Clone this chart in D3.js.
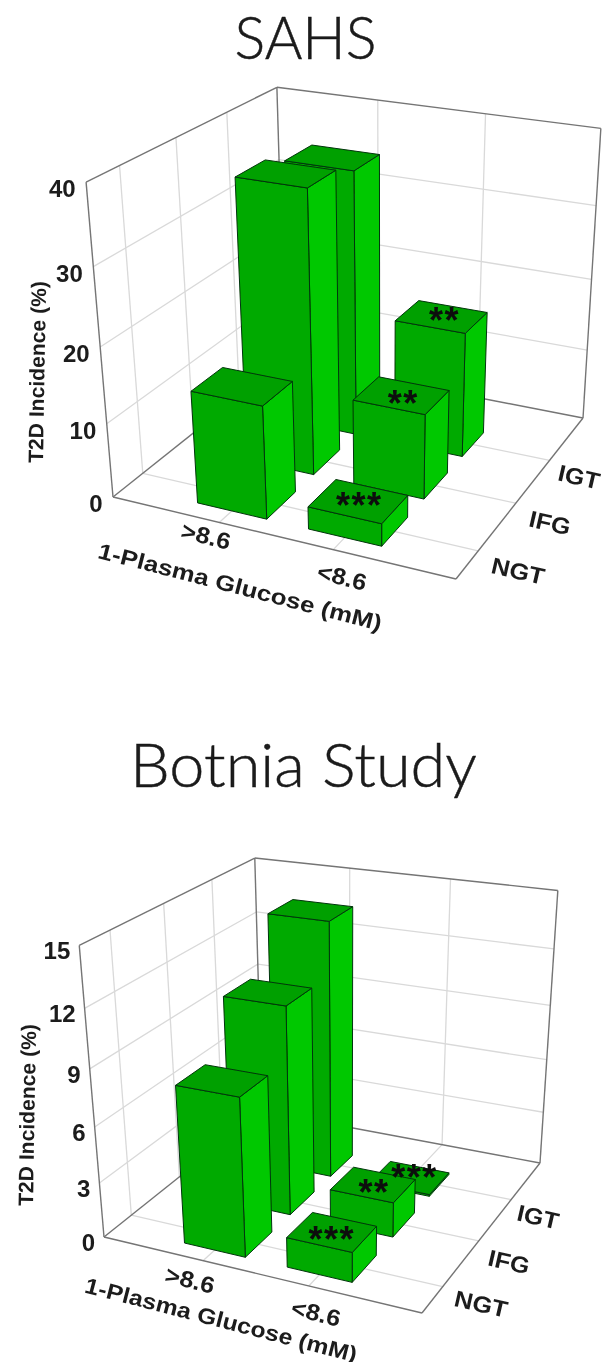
<!DOCTYPE html>
<html lang="en">
<head>
<meta charset="utf-8"/>
<title>T2D Incidence 3D bars</title>
<script src="https://d3js.org/d3.v7.min.js"></script>
<style>
  html, body { margin: 0; padding: 0; background: #fff; }
  svg { display: block; }
  .tick, .axis { font-family: "Liberation Sans", Arial, sans-serif; font-weight: bold; fill: #1a1a1a; }
</style>
</head>
<body>
<div id="chart"></div>
<script>
// chart values
var glucoseCats = [">8.6", "<8.6"];
var toleranceCats = ["NGT", "IFG", "IGT"];

var sahsTicks = [0, 10, 20, 30, 40];
var sahsHigh = [15, 37.5, 36];
var sahsLow = [3, 11.5, 17.2];
var sahsStars = ["***", "**", "**"];

var botniaTicks = [0, 3, 6, 9, 12, 15];
var botniaHigh = [8.4, 11.2, 14];
var botniaLow = [1.6, 1.9, 0.1];
var botniaStars = ["***", "**", "***"];

var w = 603, h = 1362;

var svg = d3.select("#chart").append("svg").attr("width", w).attr("height", h);
svg.append("defs").append("filter").attr("id", "soft")
    .attr("x", "-5%").attr("y", "-5%").attr("width", "110%").attr("height", "110%")
    .append("feGaussianBlur").attr("stdDeviation", 0.55);
var root = svg.append("g").attr("filter", "url(#soft)");

var path = d3.line();

// floor quad -> image, height column fitted to the three top corners
function makeCamera(c) {
    var x0 = c.left[0], y0 = c.left[1], x1 = c.front[0], y1 = c.front[1],
        x2 = c.right[0], y2 = c.right[1], x3 = c.back[0], y3 = c.back[1];
    var sx = x0 - x1 + x2 - x3, sy = y0 - y1 + y2 - y3,
        dx1 = x1 - x2, dx2 = x3 - x2, dy1 = y1 - y2, dy2 = y3 - y2,
        den = dx1 * dy2 - dx2 * dy1,
        g = (sx * dy2 - dx2 * sy) / den,
        k = (dx1 * sy - sx * dy1) / den,
        a = x1 - x0 + g * x1, b = x3 - x0 + k * x3,
        d = y1 - y0 + g * y1, e = y3 - y0 + k * y3;

    function floor(u, v) {
        return [a * u + b * v + x0, d * u + e * v + y0, g * u + k * v + 1];
    }
    var fit = [[[0, 0], c.topLeft], [[0, 1], c.topBack], [[1, 1], c.topRight]];
    var sumX = 0, sumY = 0, sumQ = 0, sumRx = 0, sumRy = 0, sumR = 0;
    fit.forEach(function (f) {
        var p = floor(f[0][0], f[0][1]), tx = f[1][0], ty = f[1][1],
            rx = tx * p[2] - p[0], ry = ty * p[2] - p[1];
        sumX += tx; sumY += ty; sumQ += tx * tx + ty * ty;
        sumRx += rx; sumRy += ry; sumR += tx * rx + ty * ry;
    });
    var n = fit.length;
    var cw = (sumX * sumRx / n + sumY * sumRy / n - sumR) / (sumQ - (sumX * sumX + sumY * sumY) / n),
        cx = (sumRx + cw * sumX) / n,
        cy = (sumRy + cw * sumY) / n;

    return function (u, v, t) {
        var p = floor(u, v), W = p[2] + t * cw;
        return [(p[0] + t * cx) / W, (p[1] + t * cy) / W];
    };
}

function draw3d(o) {
    var g = root.append("g");
    var P = makeCamera(o.cam);

    var xScale = d3.scalePoint().domain(glucoseCats).range(o.xRange).padding(1);
    var zScale = d3.scalePoint().domain(toleranceCats).range(o.zRange);
    var yScale = d3.scaleLinear().domain([0, d3.max(o.ticks)]).range([0, 1]);

    function seg(a, b, color, width) {
        g.append("path").attr("d", path([a, b])).attr("fill", "none")
            .attr("stroke", color).attr("stroke-width", width);
    }

    // grid on walls and floor
    var gridCol = "#d9d9d9", frameCol = "#747474";
    o.ticks.slice(1, -1).forEach(function (t) {
        var y = yScale(t);
        seg(P(0, 0, y), P(0, 1, y), gridCol, 1.3);
        seg(P(0, 1, y), P(1, 1, y), gridCol, 1.3);
    });
    glucoseCats.forEach(function (c) {
        var u = xScale(c);
        seg(P(u, 1, 1), P(u, 1, 0), gridCol, 1.3);
        seg(P(u, 1, 0), P(u, 0, 0), gridCol, 1.3);
    });
    toleranceCats.forEach(function (c) {
        var v = zScale(c);
        seg(P(0, v, 1), P(0, v, 0), gridCol, 1.3);
        seg(P(0, v, 0), P(1, v, 0), gridCol, 1.3);
    });

    // frame
    [[[0, 0, 1], [0, 1, 1]], [[0, 1, 1], [1, 1, 1]], [[1, 1, 1], [1, 1, 0]], [[0, 1, 1], [0, 1, 0]],
     [[0, 0, 1], [0, 0, 0]], [[0, 0, 0], [0, 1, 0]], [[0, 1, 0], [1, 1, 0]],
     [[0, 0, 0], [1, 0, 0]], [[1, 0, 0], [1, 1, 0]]].forEach(function (e) {
        seg(P.apply(null, e[0]), P.apply(null, e[1]), frameCol, 1.4);
    });

    // bars, far ones first
    var bars = [];
    toleranceCats.forEach(function (c, i) {
        bars.push({ x: glucoseCats[0], z: c, value: o.high[i], star: "" });
        bars.push({ x: glucoseCats[1], z: c, value: o.low[i], star: o.stars[i], row: i });
    });
    bars.sort(function (a, b) {
        return (zScale(b.z) - xScale(b.x)) - (zScale(a.z) - xScale(a.x));
    });

    var hw = o.barU / 2, hd = o.barV / 2;
    bars.forEach(function (d) {
        var u0 = xScale(d.x) - hw, u1 = xScale(d.x) + hw,
            v0 = zScale(d.z) - hd, v1 = zScale(d.z) + hd,
            t = yScale(d.value);
        var faces = [
            { fill: "#00c800", pts: [P(u1, v0, 0), P(u1, v1, 0), P(u1, v1, t), P(u1, v0, t)] },
            { fill: "#00aa00", pts: [P(u0, v0, 0), P(u1, v0, 0), P(u1, v0, t), P(u0, v0, t)] },
            { fill: "#00a000", pts: [P(u0, v0, t), P(u1, v0, t), P(u1, v1, t), P(u0, v1, t)] }
        ];
        g.append("g").selectAll("path").data(faces).enter().append("path")
            .attr("d", function (f) { return path(f.pts) + "Z"; })
            .attr("fill", function (f) { return f.fill; })
            .attr("stroke", "#03350a").attr("stroke-width", 1)
            .attr("stroke-linejoin", "round");
    });

    // stars on top of the low bars, after every bar so none gets covered
    bars.forEach(function (d) {
        if (!d.star) return;
        var p = P(xScale(d.x), zScale(d.z), yScale(d.value)), s = o.starShift[d.row];
        g.append("text").attr("x", p[0] + s[0]).attr("y", p[1] + s[1])
            .attr("text-anchor", "middle").attr("font-family", "Liberation Sans").attr("font-weight", "bold")
            .attr("font-size", 36).attr("letter-spacing", 1.5).attr("fill", "#0a0a0a").text(d.star);
    });

    // tick labels on the height axis
    g.selectAll(".tick").data(o.ticks).enter().append("text").attr("class", "tick")
        .attr("x", function (d) { return P(0, 0, yScale(d))[0] - o.tickGap[0]; })
        .attr("y", function (d) { return P(0, 0, yScale(d))[1] + o.tickGap[1]; })
        .attr("text-anchor", "end").attr("font-size", 24)
        .text(function (d) { return d; });

    function label(txt, l, size, cls) {
        var t = g.append("text").attr("class", cls || "tick").attr("text-anchor", "middle")
            .attr("dominant-baseline", "central").attr("font-size", size)
            .attr("transform", "translate(" + l.at[0] + "," + l.at[1] + ") rotate(" + l.rot + ")")
            .text(txt);
        if (l.len) t.attr("textLength", l.len).attr("lengthAdjust", "spacingAndGlyphs");
    }
    glucoseCats.forEach(function (c, i) { label(c, o.xLabels[i], 23); });
    toleranceCats.forEach(function (c, i) { label(c, o.zLabels[i], 23); });
    label("1-Plasma Glucose (mM)", o.xTitle, 22, "axis");
    label("T2D Incidence (%)", o.yTitle, 21, "axis");

    g.append("text").attr("x", o.title.x).attr("y", o.title.y).attr("text-anchor", "middle")
        .attr("font-family", "Lato, 'Open Sans', sans-serif").attr("font-weight", 300).attr("font-size", o.title.size)
        .attr("textLength", o.title.len).attr("lengthAdjust", "spacingAndGlyphs")
        .attr("fill", "#1a1a1a").attr("stroke", "#1a1a1a").attr("stroke-width", 0.5).text(o.title.text);
}

draw3d({
    ticks: sahsTicks, high: sahsHigh, low: sahsLow, stars: sahsStars,
    barU: 0.21, barV: 0.165, xRange: [-0.005, 0.995], zRange: [0.15, 0.7], tickGap: [10.5, 15],
    starShift: [[1, 17], [2, 21], [3, 16]],
    cam: { left: [113, 497], front: [456, 579], right: [583, 418], back: [285, 360],
           topLeft: [87, 184], topBack: [276, 87], topRight: [601, 127] },
    title: { text: "SAHS", x: 305.5, y: 58.5, size: 59, len: 142 },
    xLabels: [{ at: [206, 536], rot: 14, len: 50 }, { at: [342, 577], rot: 14, len: 50 }],
    zLabels: [{ at: [518, 571], rot: 13, len: 54 }, { at: [550, 523], rot: 13, len: 42 }, { at: [579, 477], rot: 13, len: 42 }],
    xTitle: { at: [240, 587], rot: 14.5, len: 292 },
    yTitle: { at: [37, 372], rot: -89, len: 182 }
});

draw3d({
    ticks: botniaTicks, high: botniaHigh, low: botniaLow, stars: botniaStars,
    barU: 0.2, barV: 0.165, xRange: [0, 1], zRange: [0.15, 0.72], tickGap: [9, 14],
    starShift: [[0, 20], [1, 20], [5, 12]],
    cam: { left: [104, 1237], front: [422, 1313], right: [540, 1163], back: [262, 1111],
           topLeft: [80, 945], topBack: [254, 856], topRight: [558, 893] },
    title: { text: "Botnia Study", x: 303.5, y: 787, size: 61, len: 347 },
    xLabels: [{ at: [190, 1280], rot: 14, len: 50 }, { at: [316, 1313], rot: 14, len: 50 }],
    zLabels: [{ at: [481, 1304], rot: 13, len: 54 }, { at: [509, 1262], rot: 13, len: 42 }, { at: [538, 1217], rot: 13, len: 42 }],
    xTitle: { at: [221, 1320], rot: 14.5, len: 280 },
    yTitle: { at: [27, 1115], rot: -89, len: 182 }
});
</script>
</body>
</html>
